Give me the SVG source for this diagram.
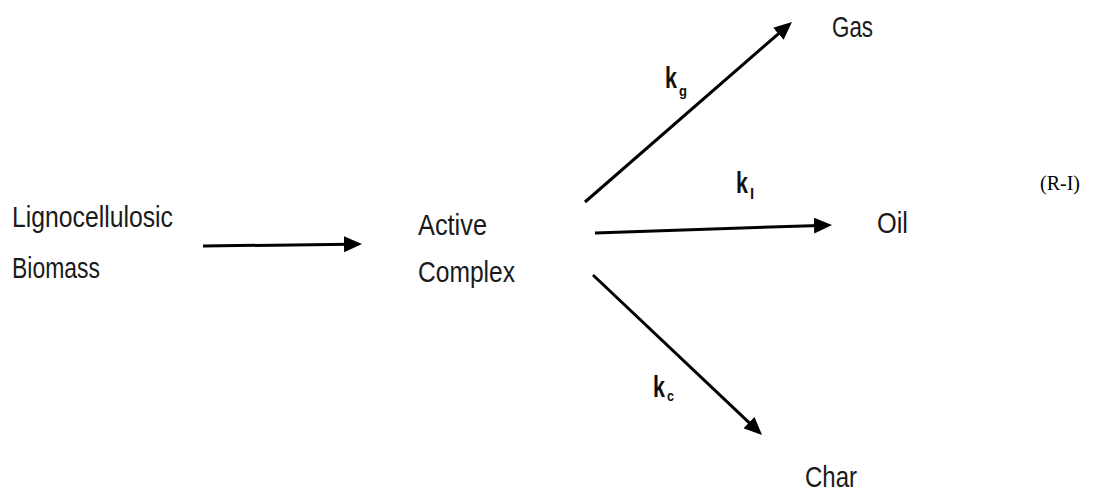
<svg xmlns="http://www.w3.org/2000/svg" width="1094" height="491" viewBox="0 0 1094 491">
  <style>
    .lbl { font-family: "Liberation Sans", Arial, sans-serif; font-size: 30px; fill: #1a1a1a; }
    .k { font-family: "Liberation Sans", Arial, sans-serif; font-size: 29px; font-weight: bold; fill: #111; }
    .sub { font-family: "Liberation Sans", Arial, sans-serif; font-size: 15px; font-weight: bold; fill: #111; }
    .tag { font-family: "Liberation Serif", "Times New Roman", serif; font-size: 20px; fill: #000; }
    .edge { stroke: #000; stroke-width: 3; fill: none; marker-end: url(#head); }
  </style>
  <defs>
    <marker id="head" markerUnits="userSpaceOnUse" markerWidth="18" markerHeight="16" refX="6" refY="8" orient="auto">
      <path d="M0,0 L18,8 L0,16 Z" fill="#000"/>
    </marker>
  </defs>

  <g id="biomass">
    <text class="lbl" x="12" y="227" textLength="161" lengthAdjust="spacingAndGlyphs">Lignocellulosic</text>
    <text class="lbl" x="12" y="278" textLength="88" lengthAdjust="spacingAndGlyphs">Biomass</text>
  </g>
  <g id="active-complex">
    <text class="lbl" x="418" y="235" textLength="69" lengthAdjust="spacingAndGlyphs">Active</text>
    <text class="lbl" x="418" y="282" textLength="97" lengthAdjust="spacingAndGlyphs">Complex</text>
  </g>
  <g id="gas">
    <text class="lbl" x="832" y="37" textLength="41" lengthAdjust="spacingAndGlyphs">Gas</text>
  </g>
  <g id="oil">
    <text class="lbl" x="877" y="233" textLength="31" lengthAdjust="spacingAndGlyphs">Oil</text>
  </g>
  <g id="char">
    <text class="lbl" x="805" y="487" textLength="52" lengthAdjust="spacingAndGlyphs">Char</text>
  </g>

  <g id="connectors">
    <line class="edge" x1="203" y1="246" x2="350" y2="244.2"/>
    <line class="edge" x1="585" y1="202" x2="782.9" y2="29.9"/>
    <line class="edge" x1="595" y1="233" x2="820" y2="225.4"/>
    <line class="edge" x1="593" y1="275" x2="753.3" y2="426.7"/>
  </g>

  <g id="rate-labels">
    <text class="k" x="665" y="88" textLength="12" lengthAdjust="spacingAndGlyphs">k</text>
    <text class="sub" x="679" y="96" textLength="8" lengthAdjust="spacingAndGlyphs">g</text>
    <text class="k" x="736" y="193" textLength="12" lengthAdjust="spacingAndGlyphs">k</text>
    <text class="sub" x="750" y="199">l</text>
    <text class="k" x="653" y="397" textLength="12" lengthAdjust="spacingAndGlyphs">k</text>
    <text class="sub" x="667" y="401" textLength="7" lengthAdjust="spacingAndGlyphs">c</text>
  </g>

  <g id="reaction-tag">
    <text class="tag" x="1040" y="190">(R-I)</text>
  </g>
</svg>
